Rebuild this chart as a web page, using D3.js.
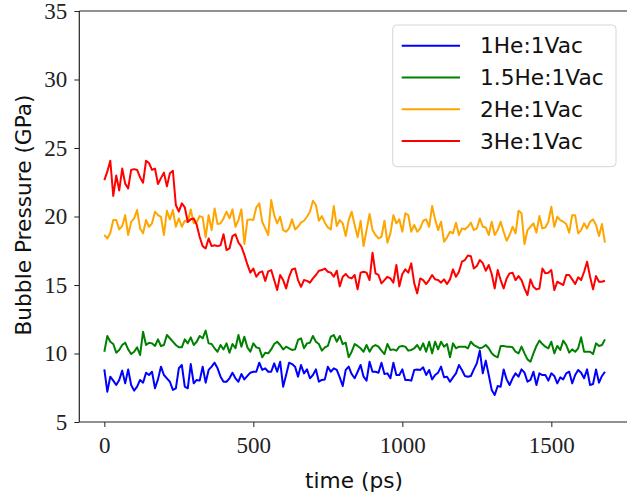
<!DOCTYPE html>
<html>
<head>
<meta charset="utf-8">
<script src="https://cdn.jsdelivr.net/npm/d3@7"></script>
<style>
  html, body { margin: 0; padding: 0; background: #fff; }
  svg { display: block; }
</style>
</head>
<body>
<svg id="chart" width="627" height="497"></svg>
<script>
// Sampling interval of the simulation output (ps)
const timeStep = 10;

const seriesNames = ["1He:1Vac", "1.5He:1Vac", "2He:1Vac", "3He:1Vac"];
const seriesColors = ["#0000ff", "#008000", "#ffa500", "#ff0000"];

const xTicks = [0, 500, 1000, 1500];
const yTicks = [5, 10, 15, 20, 25, 30, 35];

const pressure1He = [
  8.84, 7.21, 8.31, 8.02, 7.7, 8.07, 8.75, 7.82, 8.84, 7.7,
  7.29, 7.58, 8.07, 7.87, 8.6, 8.43, 8.67, 7.46, 8.11, 9.04,
  8.43, 8.19, 7.94, 7.34, 7.46, 8.92, 9.16, 7.58, 7.46, 9.23,
  7.82, 8.07, 8.02, 9.04, 7.87, 8.8, 9.04, 9.33, 8.92, 8.31,
  7.94, 7.94, 8.19, 8.6, 8.19, 7.94, 8.5, 8.11, 8.36, 8.6,
  8.67, 8.67, 9.33, 8.8, 8.92, 8.67, 8.67, 9.28, 8.67, 9.4,
  7.58, 8.43, 9.33, 9.23, 9.04, 8.31, 9.16, 8.55, 8.84, 8.19,
  8.43, 8.84, 7.94, 8.07, 8.11, 9.04, 8.67, 8.92, 8.8, 8.26,
  7.63, 8.8, 9.04, 8.5, 8.19, 8.67, 9.16, 8.31, 8.02, 9.4,
  8.67, 8.67, 8.6, 9.33, 8.5, 8.55, 8.19, 9.33, 8.43, 8.43,
  8.84, 8.07, 8.07, 8.02, 8.8, 8.84, 8.8, 8.99, 8.43, 8.8,
  8.11, 8.43, 8.6, 9.04, 8.26, 8.31, 7.94, 8.26, 8.55, 9.16,
  8.8, 8.36, 8.31, 8.36, 8.84, 9.28, 10.21, 8.55, 9.48, 8.43,
  7.34, 6.97, 7.63, 7.58, 8.84, 8.11, 7.7, 8.19, 8.55, 8.31,
  8.84, 8.6, 7.94, 8.07, 8.67, 7.7, 8.55, 8.43, 8.43, 8.02,
  8.55, 8.36, 7.82, 8.26, 8.11, 8.55, 8.67, 7.82, 8.43, 8.8,
  8.6, 8.19, 8.84, 7.7, 7.77, 8.84, 7.87, 8.36, 8.67
];

const pressure15He = [
  10.13, 11.28, 10.86, 10.69, 10.06, 10.26, 10.62, 10.79, 10.3, 9.96,
  10.13, 10.45, 9.89, 11.59, 10.62, 10.79, 10.74, 10.55, 11.03, 10.55,
  10.62, 11.35, 11.11, 10.86, 10.62, 10.45, 10.45, 11.03, 10.74, 11.18,
  10.62, 10.86, 11.28, 11.11, 11.67, 10.74, 10.69, 10.38, 10.13, 10.62,
  10.3, 10.74, 10.06, 10.69, 10.38, 11.35, 10.5, 11.23, 10.45, 10.13,
  10.74, 10.45, 10.38, 9.72, 10.06, 10.01, 10.3, 10.69, 10.86, 10.62,
  10.3, 10.5, 10.38, 10.26, 10.3, 10.99, 11.11, 10.38, 10.74, 10.79,
  11.28, 10.86, 10.69, 10.21, 10.45, 10.55, 11.23, 11.35, 10.86, 11.28,
  10.69, 10.79, 9.72, 10.13, 10.69, 10.55, 10.38, 10.13, 10.62, 10.13,
  10.5, 10.62, 10.5, 10.21, 9.96, 10.69, 10.26, 10.3, 10.21, 10.5,
  10.55, 10.5, 10.21, 10.26, 10.38, 10.62, 10.26, 10.74, 10.13, 10.86,
  10.01, 10.86, 10.3, 10.86, 10.5, 10.69, 9.72, 10.74, 10.38, 10.5,
  10.5, 10.5, 10.38, 10.86, 10.62, 10.5, 10.38, 10.45, 10.62, 10.38,
  10.01, 9.82, 9.72, 10.55, 10.55, 10.5, 10.5, 10.45, 10.13, 10.01,
  10.5, 10.01, 9.57, 9.4, 10.01, 10.55, 10.94, 10.69, 10.5, 10.38,
  10.86, 10.01, 10.55, 10.26, 10.94, 10.62, 10.06, 10.3, 10.13, 10.38,
  11.18, 10.13, 10.13, 10.13, 9.96, 10.74, 10.55, 10.62, 11.03
];

const pressure2He = [
  18.65, 18.4, 18.8, 19.74, 19.74, 19.06, 19.3, 20.1, 18.65, 19.6,
  19.86, 20.47, 19.13, 18.77, 19.74, 19.25, 19.5, 20.35, 20.1, 19.98,
  18.65, 20.42, 19.79, 20.47, 19.25, 19.86, 19.25, 19.69, 19.6, 20.52,
  19.5, 19.6, 20.03, 19.93, 18.48, 20.1, 19.01, 20.59, 19.45, 19.5,
  19.86, 20.35, 19.86, 20.52, 19.25, 19.74, 20.52, 17.99, 19.74, 19.79,
  19.74, 20.67, 20.96, 19.6, 19.13, 18.65, 21.2, 20.1, 19.5, 19.98,
  19.01, 18.89, 19.13, 19.79, 19.06, 19.25, 19.55, 19.69, 19.98, 20.35,
  21.15, 20.84, 19.69, 20.03, 19.55, 19.2, 19.06, 20.76, 19.3, 19.74,
  19.5, 18.57, 19.74, 20.35, 19.38, 18.48, 19.69, 17.84, 19.01, 20.18,
  19.01, 18.65, 18.4, 18.52, 19.69, 18.09, 18.77, 20.1, 19.5, 19.79,
  18.89, 20.23, 20.1, 18.89, 19.38, 18.89, 19.13, 19.69, 19.79, 19.25,
  20.76, 19.79, 19.01, 19.62, 18.16, 18.48, 18.89, 18.77, 19.55, 18.65,
  19.13, 19.06, 19.25, 19.55, 19.01, 19.13, 19.86, 19.25, 19.2, 18.65,
  19.62, 18.65, 19.01, 19.62, 18.89, 18.23, 18.65, 19.25, 18.77, 20.42,
  20.23, 17.99, 19.01, 19.25, 19.5, 18.82, 20.03, 19.13, 19.2, 19.62,
  20.71, 19.25, 19.98, 19.74, 19.62, 19.45, 18.82, 20.1, 20.1, 18.77,
  19.01, 19.5, 19.13, 19.62, 19.79, 19.38, 18.57, 19.45, 18.09
];

const pressure3He = [
  22.66, 23.27, 24.07, 21.5, 23.0, 21.9, 23.5, 22.4, 22.05, 23.4,
  23.46, 23.4, 22.85, 22.47, 24.07, 23.9, 23.4, 23.5, 22.37, 22.8,
  23.2, 22.2, 23.15, 23.34, 20.84, 20.35, 20.96, 20.67, 19.6, 19.8,
  19.86, 19.4, 18.5, 17.84, 17.67, 18.4, 17.84, 17.9, 17.84, 17.9,
  18.7, 17.55, 17.67, 18.57, 18.7, 18.1, 17.8, 17.2, 16.5, 15.9,
  16.2, 15.6, 15.9, 16.0, 15.3, 16.0, 16.09, 15.36, 14.63, 15.73,
  15.36, 14.75, 15.6, 16.14, 16.2, 15.36, 14.87, 15.36, 15.3, 15.17,
  15.48, 15.73, 16.04, 16.09, 16.2, 15.97, 15.9, 15.6, 16.04, 14.9,
  15.6, 15.8, 15.56, 15.48, 15.73, 14.68, 15.9, 15.97, 15.9, 15.36,
  17.36, 15.85, 15.73, 15.12, 15.36, 15.6, 15.48, 15.17, 16.46, 14.9,
  15.8, 16.14, 15.9, 16.58, 15.12, 14.39, 15.48, 15.36, 15.07, 15.36,
  15.73, 15.41, 15.36, 15.17, 15.41, 15.07, 15.41, 16.14, 15.6, 15.97,
  16.7, 16.82, 17.15, 17.1, 16.2, 16.38, 16.82, 16.6, 16.04, 16.46,
  15.8, 14.75, 16.09, 15.36, 14.75, 15.48, 15.85, 15.9, 15.36, 15.65,
  15.36, 14.75, 14.27, 15.41, 14.87, 14.68, 14.75, 16.2, 15.85, 15.9,
  16.09, 14.63, 15.24, 15.12, 15.0, 15.73, 15.73, 15.41, 15.07, 15.56,
  15.36, 15.97, 16.7, 15.6, 14.68, 15.65, 15.24, 15.24, 15.31
];

const allSeries = [pressure1He, pressure15He, pressure2He, pressure3He];

const svg = d3.select("#chart");

// Plot frame; right spine lies just past the canvas edge
const plot = { left: 79.3, right: 630, top: 11, bottom: 422 };

const tMax = (pressure1He.length - 1) * timeStep;
const pad = tMax * 0.05;

const x = d3.scaleLinear().domain([-pad, tMax + pad]).range([plot.left, plot.right]);
const y = d3.scaleLinear().domain([5, 35]).range([plot.bottom, plot.top]);

const serif = "'Liberation Serif', 'DejaVu Serif', serif";
const sans = "'DejaVu Sans', 'Noto Sans', sans-serif";
const labelSize = "21.7px";

// Data lines
const line = d3.line()
  .x((d, i) => x(i * timeStep))
  .y(d => y(d));

svg.append("g")
  .selectAll("path")
  .data(allSeries)
  .join("path")
  .attr("d", d => line(d))
  .attr("fill", "none")
  .attr("stroke", (d, i) => seriesColors[i])
  .attr("stroke-width", 2)
  .attr("stroke-linejoin", "round");

// Axes
const xAxis = d3.axisBottom(x).tickValues(xTicks).tickFormat(d3.format("d"))
  .tickSize(5).tickPadding(6).tickSizeOuter(0);
const yAxis = d3.axisLeft(y).tickValues(yTicks).tickFormat(d3.format("d"))
  .tickSize(5).tickPadding(7).tickSizeOuter(0);

const gx = svg.append("g").attr("transform", `translate(0,${plot.bottom})`).call(xAxis);
const gy = svg.append("g").attr("transform", `translate(${plot.left},0)`).call(yAxis);

[gx, gy].forEach(g => {
  g.select(".domain").remove();
  g.selectAll(".tick line").attr("stroke", "#222").attr("stroke-width", 1);
  g.selectAll(".tick text")
    .attr("fill", "#222")
    .style("font-family", serif)
    .style("font-size", "23px");
});
gx.selectAll(".tick text").attr("dy", "0.87em");

// Spines
const spine = svg.append("g").attr("stroke", "#222").attr("stroke-width", 1.2).attr("fill", "none");
spine.append("line").attr("x1", plot.left).attr("x2", plot.left).attr("y1", plot.top).attr("y2", plot.bottom);
spine.append("line").attr("x1", plot.left).attr("x2", plot.right).attr("y1", plot.bottom).attr("y2", plot.bottom);
spine.append("line").attr("x1", plot.left).attr("x2", plot.right).attr("y1", plot.top).attr("y2", plot.top);
spine.append("line").attr("x1", plot.right).attr("x2", plot.right).attr("y1", plot.top).attr("y2", plot.bottom);

// Axis titles
svg.append("text")
  .attr("x", 354)
  .attr("y", 488)
  .attr("text-anchor", "middle")
  .style("font-family", sans)
  .style("font-size", labelSize)
  .attr("fill", "#111")
  .text("time (ps)");

svg.append("text")
  .attr("transform", "translate(31,215) rotate(-90)")
  .attr("text-anchor", "middle")
  .style("font-family", sans)
  .style("font-size", labelSize)
  .attr("fill", "#111")
  .text("Bubble Pressure (GPa)");

// Legend
const legend = svg.append("g");
legend.append("rect")
  .attr("x", 392.7).attr("y", 25)
  .attr("width", 223.3).attr("height", 141.7)
  .attr("rx", 4)
  .attr("fill", "#fff").attr("fill-opacity", 0.8)
  .attr("stroke", "#d6d6d6").attr("stroke-width", 1);

const rowY = [45.7, 77.5, 109.3, 141];
seriesNames.forEach((name, i) => {
  legend.append("line")
    .attr("x1", 401.7).attr("x2", 460)
    .attr("y1", rowY[i]).attr("y2", rowY[i])
    .attr("stroke", seriesColors[i]).attr("stroke-width", 2);
  legend.append("text")
    .attr("x", 480).attr("y", rowY[i] + 7.5)
    .style("font-family", sans)
    .style("font-size", labelSize)
    .attr("fill", "#111")
    .text(name);
});
</script>
</body>
</html>
